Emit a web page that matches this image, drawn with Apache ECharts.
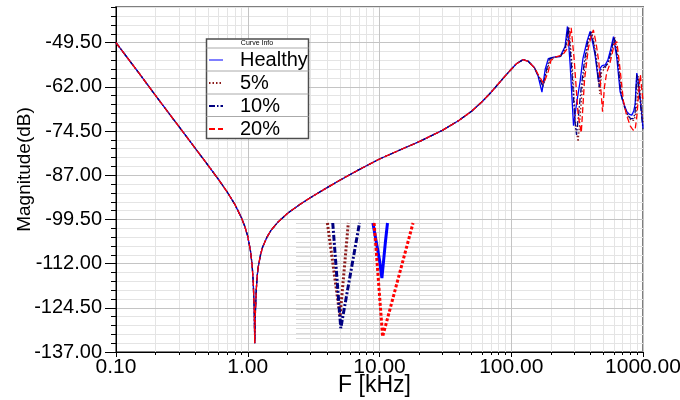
<!DOCTYPE html>
<html><head><meta charset="utf-8">
<script src="https://cdn.jsdelivr.net/npm/echarts@6/dist/echarts.min.js"></script>
<style>html,body{margin:0;padding:0;background:#fff}#c{width:680px;height:400px}</style>
</head><body><div id="c"></div>
<script>
// ---- data (frequency in kHz, magnitude in dB) ----
const freqLow = [0.1,0.12,0.15,0.2,0.25,0.3,0.4,0.5,0.6,0.7,0.8,0.9,0.95,1.0,1.05,1.08,1.1,1.12,1.13,1.14,1.16,1.18,1.2,1.25,1.3,1.4,1.5,1.7,2,2.5,3,4,5,7,10,15,20,30,40,50,60,70,80,90,100,110,123,135,150];
const magLow = [-49.5,-53.4,-58.2,-64.5,-69.3,-73.2,-79.4,-84.2,-88.2,-91.8,-95.3,-99.2,-101.5,-104.3,-108.5,-112.5,-117,-125,-134.5,-127,-119.5,-115.5,-113,-109.5,-107.2,-104.5,-102.6,-100.2,-97.8,-95.2,-93.3,-90.5,-88.4,-85.4,-82.4,-79.5,-77.5,-74.3,-71.5,-68.9,-66.2,-63.6,-61.1,-58.9,-57,-55.4,-54.3,-54.8,-56.6];

const freqHealthy = [160,171,181,191,210,235,256,267,280,297,315,333,350,375,397,415,433,459,473,490,516,540,563,597,633,670,710,754,790,822,850,871,897,925,951,975,1000];
const magHealthy = [-59,-63.5,-57,-54,-53.6,-53.4,-50.6,-44.9,-55.8,-73,-66,-60.5,-54,-49.2,-46.3,-49.5,-53,-60.5,-56.7,-56,-55.8,-54.5,-52,-47.8,-53.9,-63.3,-66.5,-69,-69.8,-70,-68.8,-67,-58.1,-61,-65,-69,-73.6];

const freq5 = [160,175,187,197,215,240,262,274,290,310,322,345,365,385,408,428,447,470,485,505,530,555,580,612,650,690,730,775,815,850,880,905,925,950,975,1000];
const mag5 = [-58.6,-61.5,-57.5,-54.2,-53.6,-53.2,-50.5,-45.2,-56,-74,-77.5,-63,-55,-49.5,-46.5,-50,-55,-64,-58,-57,-56,-54.5,-52,-48,-54.5,-64.5,-68,-70.5,-71.5,-71.5,-70,-66,-59,-63,-68,-72];

const freq10 = [160,174,185,195,213,238,259,271,286,305,313,340,360,380,403,422,440,465,480,500,525,550,572,605,640,680,720,765,805,840,870,897,925,951,975,1000];
const mag10 = [-58.8,-62,-57.2,-54,-53.6,-53.3,-50.5,-45,-55.5,-72,-75.6,-62,-54.5,-49.3,-46.4,-49.8,-54,-62,-57,-56.5,-56,-54.5,-52,-47.9,-54,-64,-67.5,-70,-71,-71,-69.5,-58.5,-62,-66,-70,-74];

const freq20 = [160,176,190,200,218,245,268,285,300,322,340,360,385,405,420,440,462,493,510,530,555,580,605,633,670,710,750,800,840,871,900,930,955,975,1000];
const mag20 = [-58.5,-61,-58,-54.5,-53.5,-53,-51,-45.3,-54,-70,-75,-60,-51,-47.5,-45.9,-49.5,-55,-69,-62,-58,-56,-53,-50,-49.2,-57,-66,-70,-73,-74.2,-74.2,-70,-63,-58.6,-62,-66];

// inset (zoom of the notch)
const insetFreqHealthy = [1.1316,1.1343,1.1353,1.1367,1.1376];
const insetMagHealthy = [-125,-128.84,-130.75,-127.09,-125];
const insetFreq5 = [1.1129,1.1181,1.1215];
const insetMag5 = [-125,-134.77,-125];
const insetFreq10 = [1.1151,1.1184,1.1261];
const insetMag10 = [-125,-135.98,-125];
const insetFreq20 = [1.1321,1.1356,1.1481];
const insetMag20 = [-125,-136.86,-125];

const seriesNames = ['Healthy','5%','10%','20%'];
const xTickValues = [0.1,1,10,100,1000];
const yTickValues = [-137,-124.5,-112,-99.5,-87,-74.5,-62,-49.5];

// ---- helpers ----
const zip = (xs, ys) => xs.map((x, i) => [x, ys[i]]);
const xMinor = [];
[0.1,1,10,100].forEach(d => { for (let k = 2; k <= 9; k++) xMinor.push(+(k * d).toPrecision(3)); });
const yMinor = [];
for (let v = -137; v <= -39.5; v += 2.5) if (yTickValues.indexOf(v) < 0) yMinor.push(v);

const colors = ['#0000ff', '#8b1a1a', '#000080', '#ff0000'];
const dashes = ['solid', [1.5, 2], [6, 2, 1.5, 2], [6, 3]];
const insetDashes = ['solid', [2, 2], [6, 2, 2, 2], [3, 2]];
const mainData = [
  zip(freqLow.concat(freqHealthy), magLow.concat(magHealthy)),
  zip(freqLow.concat(freq5), magLow.concat(mag5)),
  zip(freqLow.concat(freq10), magLow.concat(mag10)),
  zip(freqLow.concat(freq20), magLow.concat(mag20))
];
const insetData = [
  zip(insetFreqHealthy, insetMagHealthy),
  zip(insetFreq5, insetMag5),
  zip(insetFreq10, insetMag10),
  zip(insetFreq20, insetMag20)
];
const FONT = 'Liberation Sans, Arial, sans-serif';

const series = [];
seriesNames.forEach((n, i) => {
  series.push({
    name: n, type: 'line', xAxisIndex: 0, yAxisIndex: 0, data: mainData[i],
    symbol: 'none', showSymbol: false, smooth: false, z: 2 + i,
    lineStyle: { color: colors[i], width: 1.3, type: dashes[i] }, itemStyle: { color: colors[i] }
  });
});
seriesNames.forEach((n, i) => {
  series.push({
    name: n + ' (zoom)', type: 'line', xAxisIndex: 2, yAxisIndex: 2, data: insetData[i],
    symbol: 'none', showSymbol: false, smooth: false, z: 6 + i,
    lineStyle: { color: colors[i], width: 3, type: insetDashes[i] }
  });
});

const chart = echarts.init(document.getElementById('c'), null, { renderer: 'canvas' });
chart.setOption({
  animation: false,
  backgroundColor: '#fff',
  textStyle: { fontFamily: FONT },
  grid: [
    { left: 116, right: 37, top: 7, bottom: 48, show: true, borderColor: '#7f7f7f', borderWidth: 2, backgroundColor: 'transparent', containLabel: false, outerBoundsMode: 'none' },
    { left: 296, top: 223, width: 146, height: 115, show: false, containLabel: false, outerBoundsMode: 'none' }
  ],
  xAxis: [
    { type: 'log', logBase: 10, gridIndex: 0, min: 0.1, max: 1000, position: 'bottom', z: 1,
      axisLine: { show: true, lineStyle: { color: '#000', width: 1 } },
      axisTick: { show: true, length: 5, customValues: xTickValues, lineStyle: { color: '#000' } },
      axisLabel: { show: true, customValues: xTickValues, formatter: v => Number(v).toFixed(2), fontSize: 21, color: '#000', margin: 5, fontFamily: FONT, hideOverlap: false },
      splitLine: { show: true, lineStyle: { color: '#c4c4c4', width: 1 } },
      minorTick: { show: false },
      name: 'F [kHz]', nameLocation: 'middle', nameGap: 22, nameMoveOverlap: false,
      nameTextStyle: { fontSize: 23, color: '#000', fontFamily: FONT, padding: [0, 10, 0, 0] } },
    { type: 'log', logBase: 10, gridIndex: 0, min: 0.1, max: 1000, position: 'bottom', z: 0,
      axisLine: { show: false },
      axisTick: { show: true, length: 3, customValues: xMinor, lineStyle: { color: '#000' } },
      axisLabel: { show: false },
      splitLine: { show: true, lineStyle: { color: '#e4e4e4', width: 1 } } },
    { type: 'value', gridIndex: 1, min: 1.1, max: 1.16, show: false,
      splitLine: { show: false } }
  ],
  yAxis: [
    { type: 'value', gridIndex: 0, min: -137, max: -39.4, position: 'left', z: 1,
      axisLine: { show: true, lineStyle: { color: '#000', width: 1 } },
      axisTick: { show: true, length: 11, customValues: yTickValues, lineStyle: { color: '#000' } },
      axisLabel: { show: true, customValues: yTickValues, formatter: v => Number(v).toFixed(2), fontSize: 20, color: '#000', margin: 14, fontFamily: FONT },
      splitLine: { show: true, lineStyle: { color: '#c4c4c4', width: 1 } },
      name: 'Magnitude(dB)', nameLocation: 'middle', nameGap: 82, nameMoveOverlap: false,
      nameTextStyle: { fontSize: 19, color: '#000', fontFamily: FONT, padding: [0, 0, 0, 20] } },
    { type: 'value', gridIndex: 0, min: -137, max: -39.4, position: 'left', z: 0,
      axisLine: { show: false },
      axisTick: { show: true, length: 5, customValues: yMinor, lineStyle: { color: '#000' } },
      axisLabel: { show: false },
      splitLine: { show: true, lineStyle: { color: '#e4e4e4', width: 1 } } },
    { type: 'value', gridIndex: 1, min: -137, max: -125, interval: 0.5, position: 'left',
      axisLine: { show: false }, axisTick: { show: false }, axisLabel: { show: false },
      splitLine: { show: true, lineStyle: { color: '#dadada', width: 1 } } }
  ],
  legend: {
    data: [
      { name: seriesNames[0], lineStyle: { color: '#7f7fff', width: 2 } },
      seriesNames[1], seriesNames[2], seriesNames[3]
    ],
    orient: 'vertical', left: 208, top: 50, z: 20,
    itemWidth: 14, itemHeight: 10, itemGap: 3, padding: 0,
    itemStyle: { opacity: 0 },
    textStyle: { fontSize: 20, color: '#000', fontFamily: FONT, padding: [0, 0, 0, 12] }
  },
  graphic: [
    { type: 'rect', z: 10, shape: { x: 206.5, y: 39, width: 102, height: 99.5 }, style: { fill: '#fff', stroke: '#4d4d4d', lineWidth: 1.5 } },
    { type: 'text', z: 11, x: 257, y: 43.5, style: { text: 'Curve Info', fontSize: 7, fill: '#000', align: 'center', verticalAlign: 'middle', fontFamily: FONT } },
    { type: 'line', z: 11, shape: { x1: 206.5, y1: 48, x2: 308.5, y2: 48 }, style: { stroke: '#aaa', lineWidth: 1 } },
    { type: 'line', z: 11, shape: { x1: 206.5, y1: 71, x2: 308.5, y2: 71 }, style: { stroke: '#aaa', lineWidth: 1 } },
    { type: 'line', z: 11, shape: { x1: 206.5, y1: 94, x2: 308.5, y2: 94 }, style: { stroke: '#aaa', lineWidth: 1 } },
    { type: 'line', z: 11, shape: { x1: 206.5, y1: 116.5, x2: 308.5, y2: 116.5 }, style: { stroke: '#aaa', lineWidth: 1 } }
  ],
  series: series
});
</script></body></html>
